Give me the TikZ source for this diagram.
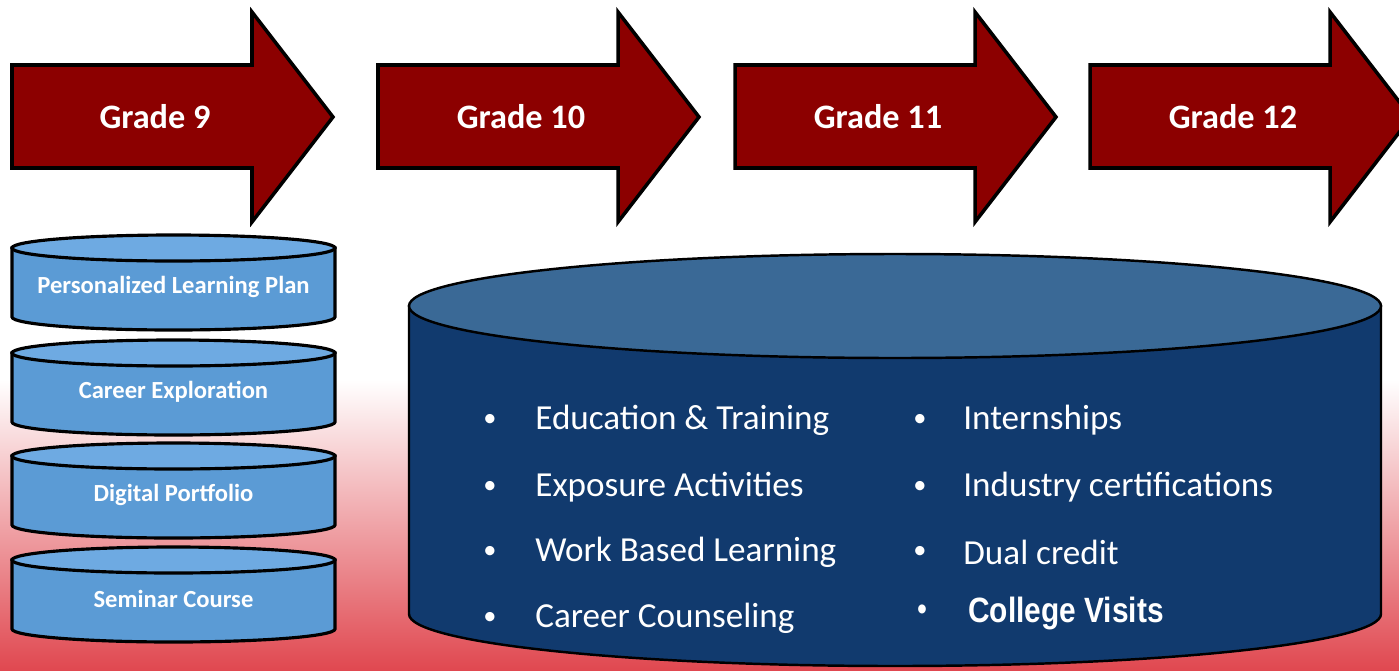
\documentclass[tikz,border=0pt]{standalone}
\usepackage{fontspec}
\setmainfont{Carlito}
\newfontfamily\arialfont[FakeStretch=0.85]{Liberation Sans}
\usepackage{tikz}

\definecolor{gradered}{RGB}{140,0,0}
\definecolor{lightcyl}{RGB}{91,155,213}
\definecolor{lightcyltop}{RGB}{110,170,226}
\definecolor{navy}{RGB}{17,58,110}
\definecolor{navytop}{RGB}{58,105,150}
\definecolor{bgred}{RGB}{224,72,80}

\begin{document}
\begin{tikzpicture}[x=0.02cm, y=-0.02cm,
	gradearrow/.style={draw=black, line width=2pt, fill=gradered, line join=miter},
	gradetext/.style={text=white, font=\fontsize{19.5}{22}\selectfont\bfseries},
	smallcyl/.style={draw=black, line width=1.8pt, fill=lightcyl},
	smalltext/.style={text=white, font=\fontsize{14}{16}\selectfont\bfseries},
	bigcyl/.style={draw=black, line width=1.4pt, fill=navy},
	itemdot/.style={text=white, font=\fontsize{15}{18}\selectfont},
	itemtext/.style={text=white, anchor=west, inner sep=0pt, font=\fontsize{20}{24}\selectfont}]
	% background
	\useasboundingbox (0,0) rectangle (1399,670);
	\clip (0,0) rectangle (1399,670);
	\fill[white] (0,0) rectangle (1399,380);
	\shade[top color=white, bottom color=bgred] (0,380) rectangle (1399,670);
	% grade arrows
	\foreach \lft/\num in {12/9, 378/10, 735/11, 1090/12}{
		\draw[gradearrow] (\lft,65) -- ++(240,0) -- ++(0,-53) -- ++(81,105) -- ++(-81,105) -- ++(0,-54) -- ++(-240,0) -- cycle;
		\node[gradetext] (grade\num) at (\lft+143,117) {Grade \num};
	}
	% grade 9 stack
	\foreach \ytop/\name/\lbl in {235/plan/Personalized Learning Plan, 340/explore/Career Exploration, 443/portfolio/Digital Portfolio, 547/seminar/Seminar Course}{
		\draw[smallcyl] (12,\ytop+13) -- (12,\ytop+82) arc[start angle=180, end angle=0, x radius=161.5, y radius=13] -- (335,\ytop+13) -- cycle;
		\draw[smallcyl, fill=lightcyltop] (173.5,\ytop+13) ellipse[x radius=161.5, y radius=13];
		\node[smalltext] (\name) at (173.5,\ytop+52) {\lbl};
	}
	% grades 10-12 drum
	\draw[bigcyl] (409,306) -- (409,614) arc[start angle=180, end angle=0, x radius=486, y radius=52] -- (1381,306) -- cycle;
	\draw[bigcyl, fill=navytop] (895,306) ellipse[x radius=486, y radius=52];
	% items
	\foreach \yy/\name/\lbl in {420/edu/Education \& Training, 487/exposure/Exposure Activities, 552/wbl/Work Based Learning, 618/counsel/Career Counseling}{
		\node[itemdot] (\name dot) at (490,\yy) {•};
		\node[itemtext] (\name) at (535,\yy) {\lbl};
	}
	\foreach \yy/\name/\lbl in {420/intern/Internships, 487/cert/Industry certifications, 552/dual/Dual credit}{
		\node[itemdot] (\name dot) at (920,\yy) {•};
		\node[itemtext] (\name) at (963,\yy) {\lbl};
	}
	\node[itemdot, font=\arialfont\fontsize{19}{22}\selectfont] (visitsdot) at (922,613) {•};
	\node[itemtext, font=\arialfont\fontsize{20}{24}\selectfont\bfseries] (visits) at (968,613) {College Visits};
\end{tikzpicture}
\end{document}
